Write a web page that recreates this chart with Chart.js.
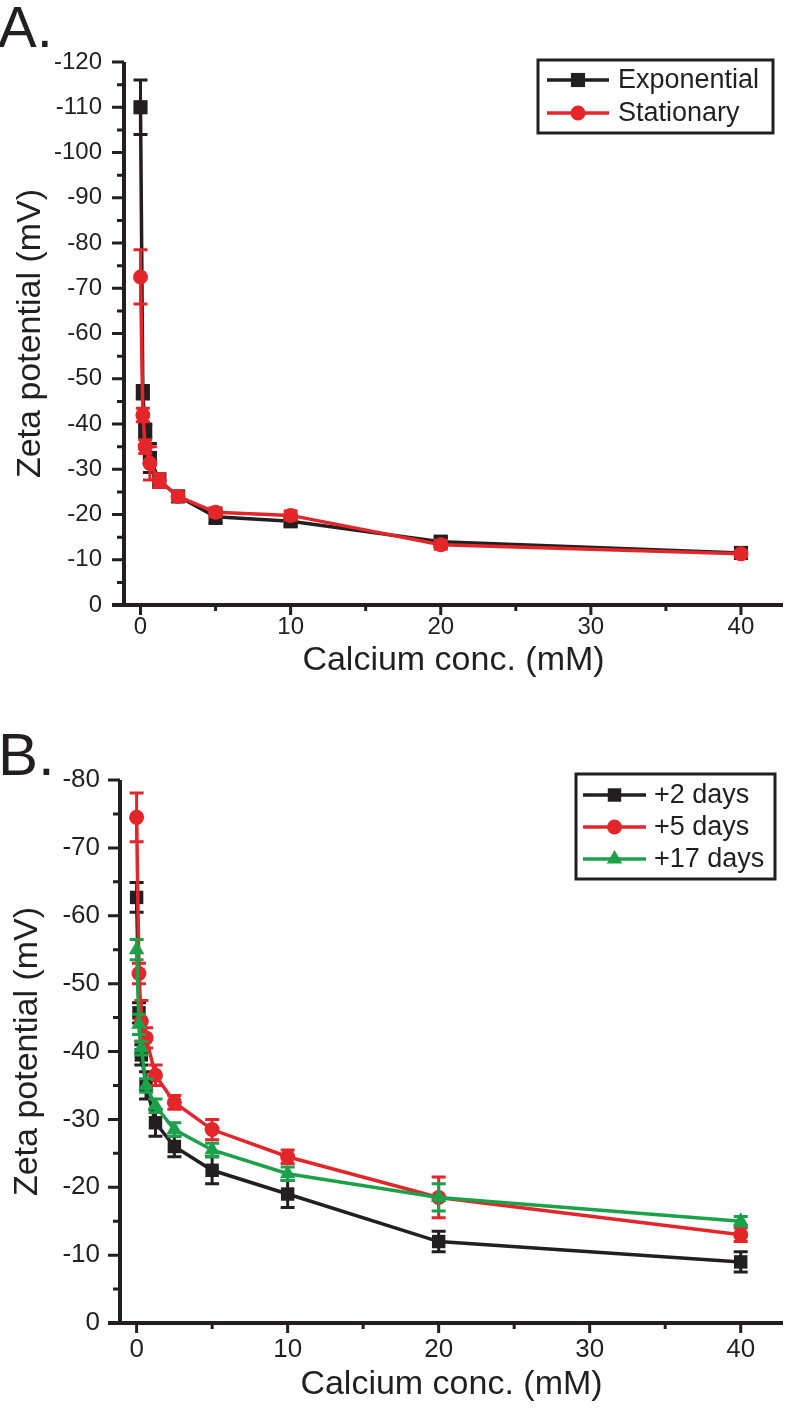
<!DOCTYPE html>
<html>
<head>
<meta charset="utf-8">
<script src="https://cdn.jsdelivr.net/npm/chart.js@4.4.1/dist/chart.umd.min.js"></script>
<style>
body{margin:0;background:#fff;width:800px;height:1417px;position:relative;overflow:hidden}
.panel{position:absolute;left:0;width:800px}
#boxA{top:0;height:690px}
#boxB{top:700px;height:717px}
</style>
</head>
<body>
<div class="panel" id="boxA"><canvas id="plotA"></canvas></div>
<div class="panel" id="boxB"><canvas id="plotB"></canvas></div>
<script>
// calcium concentrations (mM), same for every series
const conc = [0, 0.156, 0.3125, 0.625, 1.25, 2.5, 5, 10, 20, 40];

// panel A
const exponential = [-110, -47, -38.5, -32.5, -27.5, -24, -19.5, -18.5, -14, -11.5];
const exponentialErr = [6, 1.5, 1.5, 3.2, 1.5, 1, 1.5, 1, 1, 0.7];
const stationary = [-72.5, -42, -35, -31.3, -27.5, -24, -20.5, -19.8, -13.3, -11.3];
const stationaryErr = [6, 1.5, 1.5, 3.7, 1.5, 1, 1, 1, 1, 0.7];
const yTicksA = [-120, -110, -100, -90, -80, -70, -60, -50, -40, -30, -20, -10, 0];

// panel B
const days2 = [-62.7, -45.7, -39.5, -35, -29.5, -26, -22.5, -19, -12, -9];
const days2Err = [2.2, 1.5, 1.5, 2, 2, 1.5, 2, 2, 1.5, 1.5];
const days5 = [-74.5, -51.5, -44.5, -42, -36.5, -32.5, -28.5, -24.5, -18.5, -13];
const days5Err = [3.6, 1.5, 3, 1.5, 1.5, 1, 1.5, 1, 3, 1];
const days17 = [-55, -44, -40.5, -35, -32, -28.5, -25.5, -22, -18.5, -15];
const days17Err = [1.5, 1.5, 1, 1, 1, 1, 1, 1, 2, 0.7];
const yTicksB = [-80, -70, -60, -50, -40, -30, -20, -10, 0];

const xTicks = [0, 10, 20, 30, 40];

const ink = '#231f20';
const red = '#e4262b';
const green = '#1ca14b';
const FONT = "'Liberation Sans', Arial, sans-serif";

function pts(ys) { return conc.map((c, i) => ({x: c, y: ys[i]})); }

function series(label, ys, errs, color, style, r, order) {
  return {
    label: label, data: pts(ys), errors: errs, order: order,
    borderColor: color, backgroundColor: color, borderWidth: 3.5,
    pointStyle: style, pointRadius: r, pointBorderWidth: 0,
    pointBackgroundColor: color, tension: 0, clip: false
  };
}

// error bars, axes with minor ticks, boxed legend, panel letter
function decor(p) {
  return {
    id: 'decor',
    afterDatasetDraw(chart, args) {
      const ds = chart.data.datasets[args.index];
      const ctx = chart.ctx, ys = chart.scales.y;
      ctx.save();
      ctx.strokeStyle = ds.borderColor;
      ctx.lineWidth = 3;
      args.meta.data.forEach((pt, i) => {
        const e = ds.errors[i];
        const v = ds.data[i].y;
        const y1 = ys.getPixelForValue(v - e), y2 = ys.getPixelForValue(v + e);
        ctx.beginPath();
        ctx.moveTo(pt.x, y1); ctx.lineTo(pt.x, y2);
        ctx.moveTo(pt.x - 7, y1); ctx.lineTo(pt.x + 7, y1);
        ctx.moveTo(pt.x - 7, y2); ctx.lineTo(pt.x + 7, y2);
        ctx.stroke();
      });
      ctx.restore();
    },
    afterDraw(chart) {
      const ctx = chart.ctx, a = chart.chartArea;
      const xs = chart.scales.x, ys = chart.scales.y;
      ctx.save();
      ctx.strokeStyle = ink;
      ctx.lineWidth = 4;
      ctx.beginPath();
      ctx.moveTo(a.left - 12, a.bottom); ctx.lineTo(a.right, a.bottom);
      ctx.moveTo(a.left, a.top); ctx.lineTo(a.left, a.bottom + 2);
      ctx.stroke();
      ctx.lineWidth = 3;
      ctx.beginPath();
      for (let v = ys.min; v <= ys.max; v += 5) {
        const y = ys.getPixelForValue(v);
        const len = (v % 10 === 0) ? 12 : 7;
        ctx.moveTo(a.left - len, y); ctx.lineTo(a.left, y);
      }
      for (let v = 0; v <= 40; v += 5) {
        const x = xs.getPixelForValue(v);
        const len = (v % 10 === 0) ? 10 : 6;
        ctx.moveTo(x, a.bottom); ctx.lineTo(x, a.bottom + len);
      }
      ctx.stroke();

      // legend box
      const L = p.legend;
      ctx.lineWidth = 3;
      ctx.strokeRect(L.x, L.y, L.w, L.h);
      ctx.font = L.font + 'px ' + FONT;
      ctx.textBaseline = 'middle';
      ctx.textAlign = 'left';
      chart.data.datasets.forEach((ds, i) => {
        const ry = L.y + L.row0 + i * L.rowGap;
        ctx.strokeStyle = ds.borderColor;
        ctx.lineWidth = 3.5;
        ctx.beginPath();
        ctx.moveTo(L.x + L.s0, ry); ctx.lineTo(L.x + L.s1, ry);
        ctx.stroke();
        ctx.fillStyle = ds.borderColor;
        Chart.helpers.drawPoint(ctx, {pointStyle: ds.pointStyle, radius: ds.pointRadius, rotation: 0, borderWidth: 0},
          L.x + (L.s0 + L.s1) / 2, ry);
        ctx.fillStyle = ink;
        ctx.fillText(ds.label, L.x + L.tx, ry + 1);
      });

      // panel letter
      ctx.fillStyle = ink;
      ctx.textBaseline = 'alphabetic';
      ctx.font = p.letterSize + 'px ' + FONT;
      ctx.fillText(p.letter, -2, p.letterY);
      ctx.restore();
    }
  };
}

function makeChart(id, datasets, p) {
  return new Chart(document.getElementById(id).getContext('2d'), {
    type: 'line',
    data: {datasets: datasets},
    options: {
      responsive: true, maintainAspectRatio: false, animation: false,
      layout: {padding: {left: 0, top: p.top, right: 17, bottom: 0}},
      plugins: {legend: {display: false}, tooltip: {enabled: false}},
      scales: {
        x: {
          type: 'linear', min: -1.1, max: 42.8,
          afterBuildTicks: s => { s.ticks = xTicks.map(v => ({value: v})); },
          afterFit: s => { s.height = p.xh; },
          grid: {display: true, drawOnChartArea: false, drawTicks: false},
          border: {display: false},
          ticks: {color: ink, padding: p.xpad, maxRotation: 0, font: {family: FONT, size: p.tick}},
          title: {display: true, text: 'Calcium conc. (mM)', color: ink, padding: {top: 0, bottom: p.xtpad},
                  font: {family: FONT, size: p.title, lineHeight: 1.2}}
        },
        y: {
          type: 'linear', reverse: true, min: p.yticks[0], max: 0,
          afterBuildTicks: s => { s.ticks = p.yticks.map(v => ({value: v})); },
          afterFit: s => { s.width = p.yw; },
          grid: {display: true, drawOnChartArea: false, drawTicks: false},
          border: {display: false},
          ticks: {color: ink, padding: p.ypad, font: {family: FONT, size: p.tick}, callback: v => String(v)},
          title: {display: true, text: 'Zeta potential (mV)', color: ink, padding: {top: p.ytpad, bottom: 0},
                  font: {family: FONT, size: p.title, lineHeight: 1.2}}
        }
      }
    },
    plugins: [decor(p)]
  });
}

makeChart('plotA', [
  series('Exponential', exponential, exponentialErr, ink, 'rect', 10, 2),
  series('Stationary', stationary, stationaryErr, red, 'circle', 7.5, 1)
], {
  top: 62, xh: 85, yw: 124, yticks: yTicksA, tick: 24, title: 34,
  xpad: 8, xtpad: 9, ypad: 22, ytpad: 10,
  letter: 'A.', letterSize: 58, letterY: 47,
  legend: {x: 538, y: 60, w: 235, h: 73, row0: 20, rowGap: 33, s0: 9, s1: 71, tx: 80, font: 27}
});

makeChart('plotB', [
  series('+2 days', days2, days2Err, ink, 'rect', 9.5, 3),
  series('+5 days', days5, days5Err, red, 'circle', 7.5, 2),
  series('+17 days', days17, days17Err, green, 'triangle', 9, 1)
], {
  top: 80, xh: 94, yw: 120, yticks: yTicksB, tick: 26, title: 34,
  xpad: 11, xtpad: 12, ypad: 20, ytpad: 7,
  letter: 'B.', letterSize: 60, letterY: 75,
  legend: {x: 576, y: 74, w: 199, h: 105, row0: 21, rowGap: 32, s0: 7, s1: 70, tx: 78, font: 27}
});
</script>
</body>
</html>
